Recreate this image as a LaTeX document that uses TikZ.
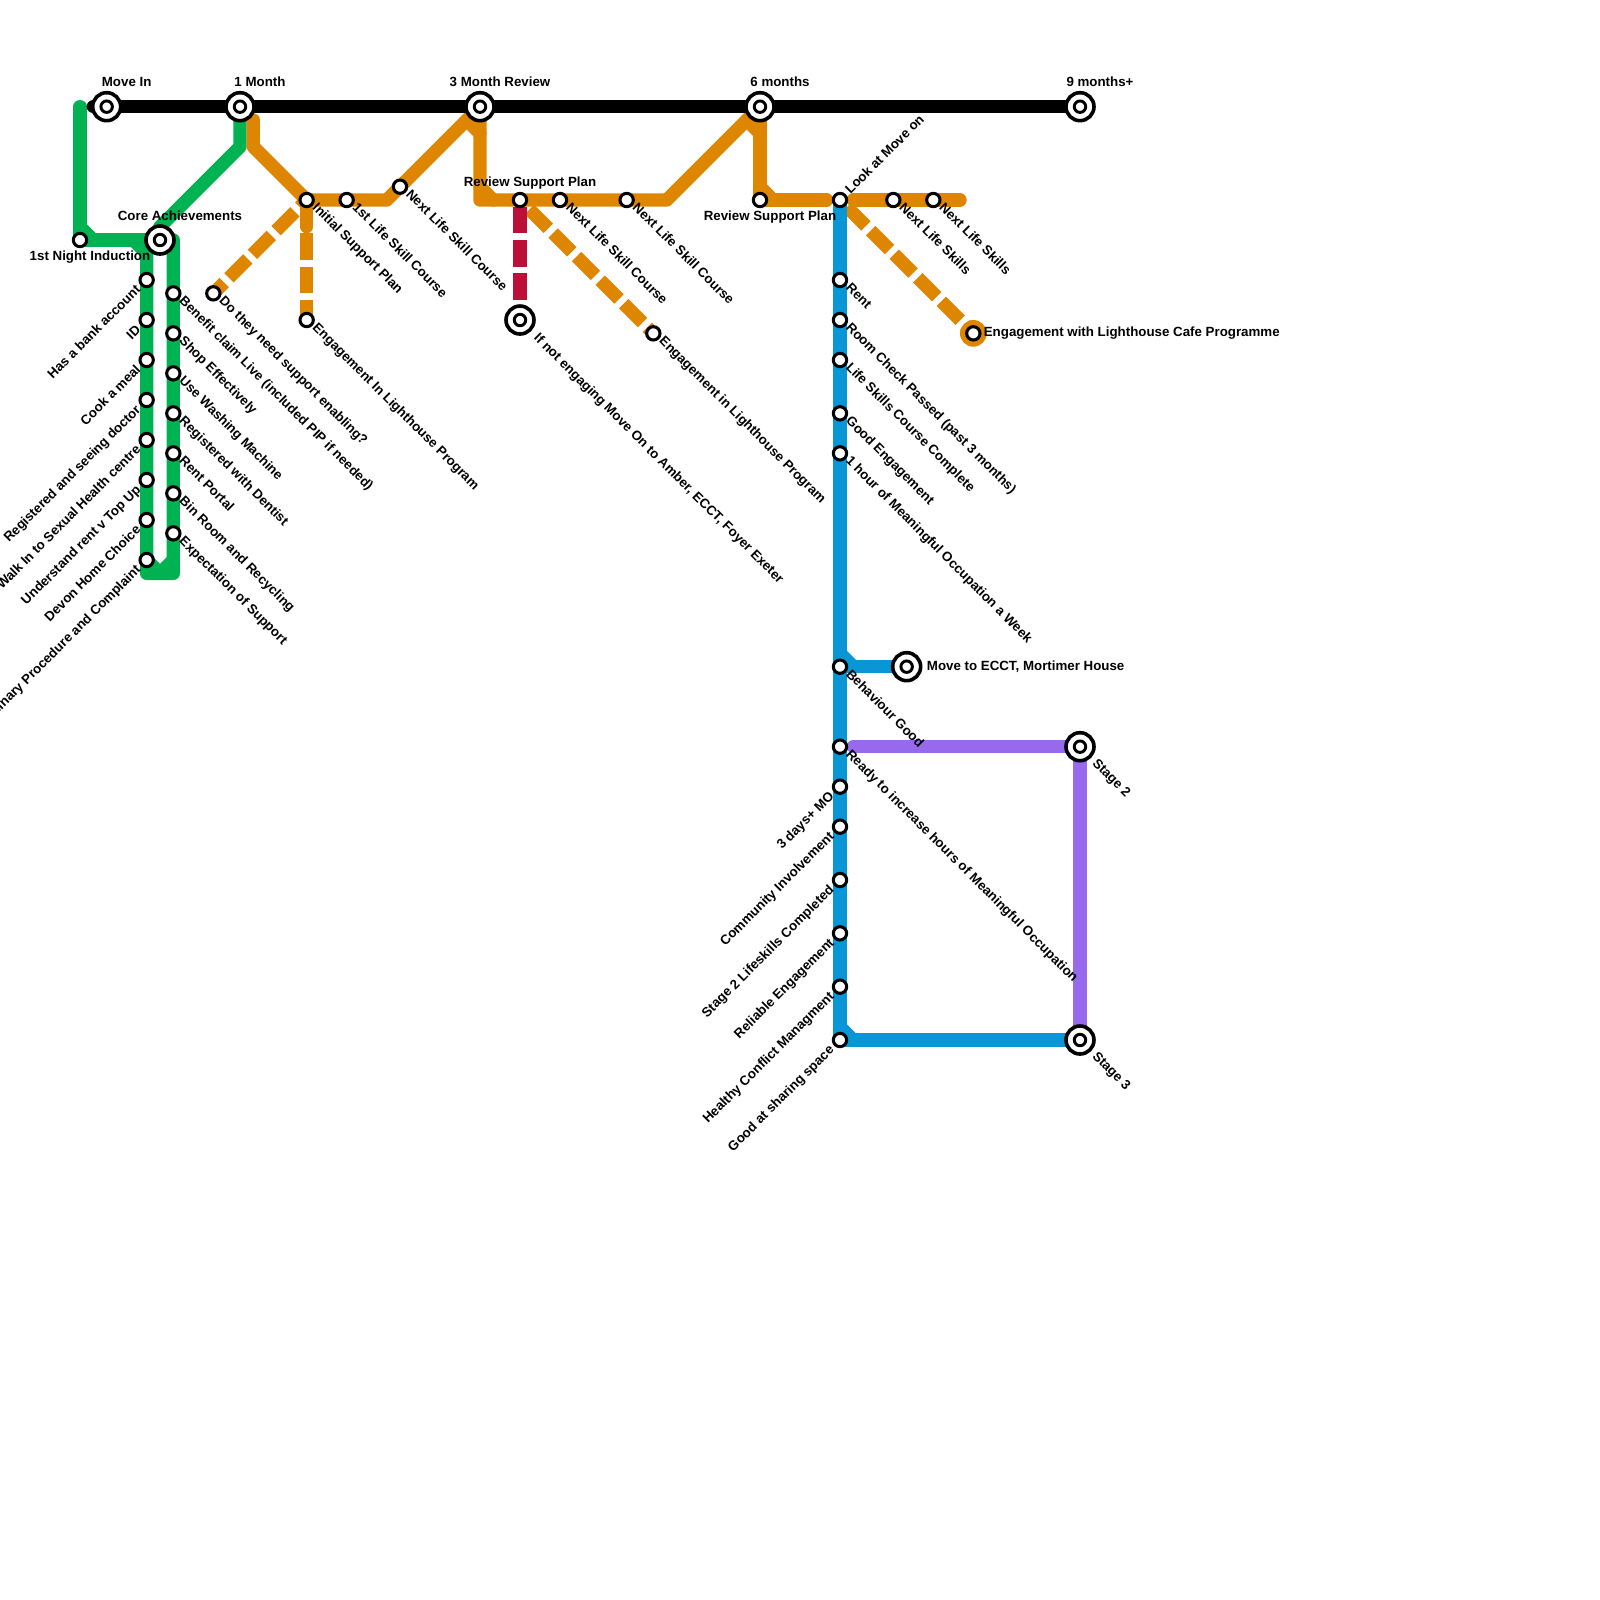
\documentclass[tikz,border=0pt]{standalone}
\usepackage{fontspec}
\setmainfont{Liberation Sans}
\usepackage{xcolor}
\definecolor{linegreen}{HTML}{00B251}
\definecolor{lineorange}{HTML}{DF8600}
\definecolor{linecrimson}{HTML}{BD1038}
\definecolor{lineblue}{HTML}{0896D7}
\definecolor{linepurple}{HTML}{9769EC}
\usetikzlibrary{backgrounds}

\begin{document}
\begin{tikzpicture}[x=1mm,y=-1mm,
  stn/.style={circle,draw=black,fill=white,line width=.23mm,inner sep=0pt,outer sep=0pt,minimum size=1mm},
  hub/.style={circle,draw=black,fill=white,line width=.27mm,inner sep=0pt,outer sep=0pt,minimum size=2.1mm,
    path picture={\draw[line width=.22mm] (path picture bounding box.center) circle (.43mm);}},
  txt/.style={text=black,inner sep=0pt,font=\fontsize{2.84}{3.3}\selectfont\bfseries},
  flat/.style={txt,anchor=base},
  flatw/.style={txt,anchor=base west},
  down/.style={txt,rotate=-45,anchor=base west},
  upr/.style={txt,rotate=45,anchor=base west},
  upl/.style={txt,rotate=45,anchor=base east},
  route/.style={line width=1mm,line cap=round,line join=round},
  grn/.style={route,linegreen},
  org/.style={route,lineorange},
  blu/.style={route,lineblue},
  pur/.style={route,linepurple},
  blk/.style={route,black},
  orgdash/.style={lineorange,line width=1mm,dash pattern=on 2mm off .5mm},
  reddash/.style={linecrimson,line width=1mm,dash pattern=on 2mm off .5mm}]
  \useasboundingbox (0,0) rectangle (120,120);

  \node[hub] (movein) at (8,8) {};
  \node[hub] (onemonth) at (18,8) {};
  \node[hub] (threemonth) at (36,8) {};
  \node[hub] (sixmonth) at (57,8) {};
  \node[hub] (ninemonth) at (81,8) {};
  \node[flat] (moveinl) at (9.5,6.45) {Move In};
  \node[flat] (onemonthl) at (19.5,6.45) {1 Month};
  \node[flat] (threemonthl) at (37.5,6.45) {3 Month Review};
  \node[flat] (sixmonthl) at (58.5,6.45) {6 months};
  \node[flat] (ninemonthl) at (82.5,6.45) {9 months+};

  \coordinate (blackstart) at (7,8);
  \coordinate (greenstart) at (6,8);
  \node[stn] (night) at (6,18) {};
  \node[hub] (core) at (12,18) {};
  \node[flat] (nightl) at (6.75,19.5) {1st Night Induction};
  \node[flat] (corel) at (13.5,16.5) {Core Achievements};

  \node[stn] (bank) at (11,21) {};
  \node[stn] (idcard) at (11,24) {};
  \node[stn] (cook) at (11,27) {};
  \node[stn] (doctor) at (11,30) {};
  \node[stn] (walkin) at (11,33) {};
  \node[stn] (topup) at (11,36) {};
  \node[stn] (devon) at (11,39) {};
  \node[stn] (complaint) at (11,42) {};
  \node[upl] (bankl) at (10.65,21.75) {Has a bank account};
  \node[upl] (idcardl) at (10.65,24.75) {ID};
  \node[upl] (cookl) at (10.65,27.75) {Cook a meal};
  \node[upl] (doctorl) at (10.65,30.75) {Registered and seeing doctor};
  \node[upl] (walkinl) at (10.65,33.75) {Walk In to Sexual Health centre};
  \node[upl] (topupl) at (10.65,36.75) {Understand rent v Top Up};
  \node[upl] (devonl) at (10.65,39.75) {Devon Home Choice};
  \node[upl] (complaintl) at (10.65,42.75) {Disciplinary Procedure and Complaint};

  \node[stn] (benefit) at (13,22) {};
  \node[stn] (shop) at (13,25) {};
  \node[stn] (washing) at (13,28) {};
  \node[stn] (dentist) at (13,31) {};
  \node[stn] (portal) at (13,34) {};
  \node[stn] (binroom) at (13,37) {};
  \node[stn] (expect) at (13,40) {};
  \node[down] (benefitl) at (13.35,22.58) {Benefit claim Live (included PIP if needed)};
  \node[down] (shopl) at (13.35,25.58) {Shop Effectively};
  \node[down] (washingl) at (13.35,28.58) {Use Washing Machine};
  \node[down] (dentistl) at (13.35,31.58) {Registered with Dentist};
  \node[down] (portall) at (13.35,34.58) {Rent Portal};
  \node[down] (binrooml) at (13.35,37.58) {Bin Room and Recycling};
  \node[down] (expectl) at (13.35,40.58) {Expectation of Support};

  \node[stn] (initial) at (23,15) {};
  \node[stn] (firstskill) at (26,15) {};
  \node[stn] (nextskilla) at (30,14) {};
  \node[stn] (enabling) at (16,22) {};
  \node[stn] (lighta) at (23,24) {};
  \node[down] (initiall) at (23.35,15.58) {Initial Support Plan};
  \node[down] (firstskilll) at (26.35,15.58) {1st Life Skill Course};
  \node[down] (nextskillal) at (30.35,14.58) {Next Life Skill Course};
  \node[down] (enablingl) at (16.35,22.58) {Do they need support enabling?};
  \node[down] (lightal) at (23.35,24.58) {Engagement In Lighthouse Program};

  \node[stn] (reviewa) at (39,15) {};
  \node[stn] (nextskillb) at (42,15) {};
  \node[stn] (nextskillc) at (47,15) {};
  \node[stn] (lightb) at (49,25) {};
  \node[hub] (amber) at (39,24) {};
  \node[flat] (reviewal) at (39.75,14) {Review Support Plan};
  \node[down] (nextskillbl) at (42.35,15.58) {Next Life Skill Course};
  \node[down] (nextskillcl) at (47.35,15.58) {Next Life Skill Course};
  \node[down] (lightbl) at (49.35,25.58) {Engagement in Lighthouse Program};
  \node[down] (amberl) at (39.95,25.35) {If not engaging Move On to Amber, ECCT, Foyer Exeter};

  \node[stn] (reviewb) at (57,15) {};
  \node[stn] (lookon) at (63,15) {};
  \node[stn] (nextlifea) at (67,15) {};
  \node[stn] (nextlifeb) at (70,15) {};
  \node[circle,fill=lineorange,inner sep=0pt,outer sep=0pt,minimum size=2mm] (cafering) at (73,25) {};
  \node[stn] (cafe) at (73,25) {};
  \node[flat] (reviewbl) at (57.75,16.5) {Review Support Plan};
  \node[upr] (lookonl) at (63.75,14.65) {Look at Move on};
  \node[down] (nextlifeal) at (67.35,15.58) {Next Life Skills};
  \node[down] (nextlifebl) at (70.35,15.58) {Next Life Skills};
  \node[flatw] (cafel) at (73.72,25.25) {Engagement with Lighthouse Cafe Programme};

  \node[stn] (rent) at (63,21) {};
  \node[stn] (room) at (63,24) {};
  \node[stn] (course) at (63,27) {};
  \node[stn] (goodeng) at (63,31) {};
  \node[stn] (hour) at (63,34) {};
  \node[stn] (behaviour) at (63,50) {};
  \node[stn] (ready) at (63,56) {};
  \node[stn] (threedays) at (63,59) {};
  \node[stn] (community) at (63,62) {};
  \node[stn] (lifeskills) at (63,66) {};
  \node[stn] (reliable) at (63,70) {};
  \node[stn] (conflict) at (63,74) {};
  \node[stn] (sharing) at (63,78) {};
  \node[hub] (ecct) at (68,50) {};
  \node[hub] (stagetwo) at (81,56) {};
  \node[hub] (stagethree) at (81,78) {};
  \coordinate (purplestart) at (64,56);
  \node[down] (rentl) at (63.35,21.58) {Rent};
  \node[down] (rooml) at (63.35,24.58) {Room Check Passed (past 3 months)};
  \node[down] (coursel) at (63.35,27.58) {Life Skills Course Complete};
  \node[down] (goodengl) at (63.35,31.58) {Good Engagement};
  \node[down] (hourl) at (63.35,34.58) {1 hour of Meaningful Occupation a Week};
  \node[down] (behaviourl) at (63.35,50.58) {Behaviour Good};
  \node[down] (readyl) at (63.35,56.58) {Ready to increase hours of Meaningful Occupation};
  \node[upl] (threedaysl) at (62.65,59.75) {3 days+ MO};
  \node[upl] (communityl) at (62.65,62.75) {Community Involvement};
  \node[upl] (lifeskillsl) at (62.65,66.75) {Stage 2 Lifeskills Completed};
  \node[upl] (reliablel) at (62.65,70.75) {Reliable Engagement};
  \node[upl] (conflictl) at (62.65,74.75) {Healthy Conflict Managment};
  \node[upl] (sharingl) at (62.65,78.75) {Good at sharing space};
  \node[flatw] (ecctl) at (69.45,50.3) {Move to ECCT, Mortimer House};
  \node[down] (stagetwol) at (81.85,57.25) {Stage 2};
  \node[down] (stagethreel) at (81.85,79.25) {Stage 3};

  \begin{scope}[on background layer]
    \draw[grn] (greenstart)--(night.center)--(core.center); \draw[grn] (6,17)--(7,18);
    \draw[grn] (10,18)--(11,19)--(bank.center)--(complaint.center)--(11,43)--(13,43)--(expect.center)--(benefit.center)--(13,18)--(core.center);
    \draw[grn] (complaint.center)--(12,43)--(13,42);
    \draw[grn] (onemonth.center)--(18,11)--(12,17)--(core.center);
    \draw[org] (19,9)--(19,11)--(initial.center)--(firstskill.center)--(29,15)--(nextskilla.center)--(threemonth.center);
    \draw[org] (threemonth.center)--(36,15)--(reviewa.center)--(nextskillb.center)--(nextskillc.center)--(50,15)--(sixmonth.center);
    \draw[org] (35,9)--(36,10); \draw[org] (36,14)--(37,15);
    \draw[org] (sixmonth.center)--(reviewb.center)--(62,15); \draw[org] (56,9)--(57,10); \draw[org] (57,14)--(58,15);
    \draw[org] (64,15)--(nextlifea.center)--(nextlifeb.center)--(72,15);
    \draw[org] (initial.center)--(23,17);
    \draw[orgdash,dash phase=1.25mm] (initial.center)--(enabling.center);
    \draw[orgdash] (initial.center)--(lighta.center);
    \draw[orgdash,dash phase=1.5mm] (reviewa.center)--(lightb.center);
    \draw[orgdash,dash phase=1.75mm] (lookon.center)--(cafe.center);
    \draw[reddash,dash phase=2mm] (reviewa.center)--(amber.center);
    \draw[blu] (lookon.center)--(sharing.center)--(stagethree.center);
    \draw[blu] (63,49)--(64,50); \draw[blu] (behaviour.center)--(ecct.center); \draw[blu] (63,77)--(64,78);
    \draw[pur] (purplestart)--(stagetwo.center)--(stagethree.center);
    \draw[blk] (blackstart)--(ninemonth.center);
  \end{scope}
\end{tikzpicture}
\end{document}
